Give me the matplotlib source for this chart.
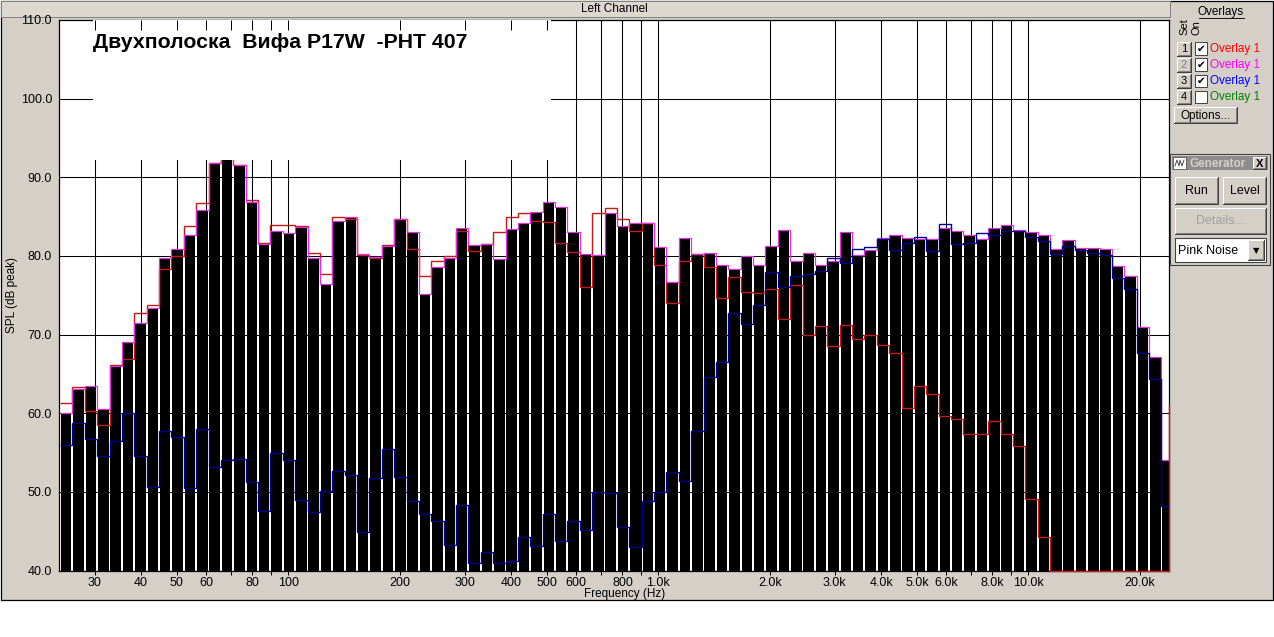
import numpy as np
import matplotlib
matplotlib.use('Agg')
import matplotlib.pyplot as plt
from matplotlib.patches import Rectangle
from matplotlib.lines import Line2D
from matplotlib.ticker import NullLocator

plt.rcParams['font.family'] = ['Liberation Sans', 'DejaVu Sans']

W, H = 1274, 637

# 1/9-octave RTA levels, dB peak, band 1 starts at ~24 Hz
current_db = [60.0, 63.1, 63.4, 60.5, 66.0, 69.0, 71.5, 73.4, 79.7, 80.9,
              82.6, 85.8, 91.8, 92.6, 91.6, 86.8, 81.5, 83.2, 82.9, 83.7,
              79.7, 76.4, 84.4, 85.0, 80.3, 79.9, 81.3, 84.7, 83.0, 75.1,
              78.6, 79.7, 83.6, 81.4, 81.5, 79.6, 83.4, 84.2, 85.6, 86.8,
              86.2, 83.1, 80.3, 80.1, 85.5, 83.8, 84.2, 84.2, 81.1, 76.7,
              82.3, 80.2, 80.4, 78.9, 78.3, 80.0, 78.8, 81.3, 83.3, 79.4,
              80.4, 78.9, 79.3, 83.0, 80.1, 80.7, 82.3, 82.6, 82.3, 82.1,
              82.2, 83.5, 83.2, 82.6, 82.2, 83.6, 83.9, 83.3, 83.1, 82.7,
              80.9, 82.0, 81.0, 81.0, 80.9, 78.7, 77.4, 71.0, 67.2, 54.1]

# overlay set 1 (red), last value is the band just past the right edge
set1_db = [61.3, 63.3, 60.3, 58.5, 66.1, 66.9, 72.7, 73.7, 78.4, 80.0,
           83.8, 86.7, 91.8, 92.6, 91.5, 87.1, 81.6, 83.9, 83.9, 83.8,
           80.4, 77.7, 84.9, 84.7, 80.1, 79.8, 81.4, 84.7, 80.9, 77.4,
           79.3, 80.0, 83.2, 80.6, 81.5, 83.0, 84.9, 85.5, 84.5, 84.3,
           81.7, 80.5, 76.1, 85.4, 86.1, 84.7, 83.2, 84.2, 78.9, 74.0,
           79.4, 80.3, 78.6, 74.6, 77.3, 75.4, 75.3, 75.8, 72.0, 76.3,
           70.0, 71.1, 68.6, 71.2, 69.5, 70.0, 68.7, 67.7, 60.6, 63.5,
           62.4, 59.6, 59.3, 57.3, 57.3, 59.0, 57.3, 55.8, 49.1, 44.2,
           40.0, 40.0, 40.0, 40.0, 40.0, 40.0, 40.0, 40.0, 40.0, 40.0,
           61.1]

# overlay set 2 (magenta) is the same capture as the live trace
set2_db = list(current_db)

# overlay set 3 (blue)
set3_db = [56.0, 58.7, 56.7, 54.5, 56.5, 60.0, 54.6, 50.6, 57.8, 57.0,
           50.5, 58.0, 53.1, 54.1, 54.2, 51.2, 47.6, 55.0, 54.1, 49.0,
           47.4, 50.1, 52.7, 52.2, 44.9, 51.7, 55.5, 51.9, 48.9, 47.2,
           46.3, 43.2, 48.3, 40.9, 42.4, 40.9, 41.2, 44.2, 43.1, 47.2,
           43.8, 46.3, 45.2, 50.0, 49.8, 45.5, 43.0, 48.8, 50.0, 52.5,
           51.4, 57.7, 64.6, 66.5, 72.8, 71.4, 73.8, 77.9, 76.1, 77.4,
           77.7, 78.1, 79.7, 79.1, 80.9, 81.1, 82.2, 80.8, 81.7, 82.4,
           80.6, 84.1, 81.5, 81.7, 82.9, 82.6, 83.2, 83.2, 82.4, 81.9,
           80.2, 81.3, 80.8, 80.4, 80.1, 77.2, 75.8, 67.6, 64.4, 48.2]

grid_freqs = [30, 40, 50, 60, 70, 80, 90, 100, 200, 300, 400, 500, 600, 700,
              800, 900, 1000, 2000, 3000, 4000, 5000, 6000, 7000, 8000, 9000,
              10000, 20000]
grid_labels = ['30', '40', '50', '60', '', '80', '', '100', '200', '300', '400',
               '500', '600', '', '800', '', '1.0k', '2.0k', '3.0k', '4.0k',
               '5.0k', '6.0k', '', '8.0k', '', '10.0k', '20.0k']
y_ticks = [40, 50, 60, 70, 80, 90, 100, 110]
overlay_names = ['Overlay 1', 'Overlay 1', 'Overlay 1', 'Overlay 1']
overlay_colors = ['#FF0000', '#FF00FF', '#0000FF', '#008000']
overlay_on = [True, True, True, False]

F_LO, F_HI = 24.0, 24000.0
F_START = 24.15
edges = F_START * 2.0 ** (np.arange(len(set1_db) + 1) / 9.0)
edges_plot = np.minimum(edges, F_HI * 0.9995)

GRAY = '#D4D0C8'
DARK = '#808080'


def fx(x):
    return x / W


def fy(y):
    return 1 - y / H


def px_rect(x0, y0, x1, y1, **kw):
    kw.setdefault('zorder', 2)
    r = Rectangle((fx(x0), fy(y1)), (x1 - x0) / W, (y1 - y0) / H,
                  transform=fig.transFigure, **kw)
    fig.add_artist(r)
    return r


def px_line(xs, ys, color, lw=1.0):
    fig.add_artist(Line2D([fx(x) for x in xs], [fy(y) for y in ys],
                          transform=fig.transFigure, color=color, lw=lw * 0.72,
                          zorder=3))


def px_text(x, y, s, **kw):
    kw.setdefault('fontsize', 8)
    kw.setdefault('va', 'center')
    kw.setdefault('zorder', 4)
    return fig.text(fx(x), fy(y), s, **kw)


def button(x0, y0, x1, y1, label='', color='black', size=8.5, bold=False):
    px_rect(x0, y0, x1, y1, facecolor=GRAY, edgecolor='none')
    px_line([x0, x1, x1, x0], [y1, y1, y0, y0], '#404040')
    px_line([x0, x0, x1 - 1], [y1 - 1, y0, y0], 'white')
    px_line([x0 + 1, x1 - 1, x1 - 1], [y1 - 1, y1 - 1, y0 + 1], DARK)
    if label:
        px_text((x0 + x1) / 2, (y0 + y1) / 2 + 0.5, label, ha='center',
                color=color, fontsize=size, fontweight='bold' if bold else 'normal')


fig = plt.figure(figsize=(W / 100, H / 100), dpi=100, facecolor='white')

# window background (kept under the axes)
px_rect(0.5, 0.5, 1273, 600, facecolor=GRAY, edgecolor='black', lw=0.9, zorder=-5)
px_rect(1, 1, 1170, 17, facecolor='#DCD8D0', edgecolor=DARK, lw=0.7, zorder=-4)
px_text(614, 9.5, 'Left Channel', ha='center', fontsize=8.5)

ax = fig.add_axes([fx(59), fy(570.5), 1110 / W, 550.5 / H])
ax.set_facecolor('white')
ax.set_xscale('log')
ax.set_xlim(F_LO, F_HI)
ax.set_ylim(40, 110)

n = len(current_db)
left = edges[:n] * 2 ** (0.075 / 9)
right = edges[1:n + 1] * 2 ** (-0.075 / 9)
ax.bar(left, current_db, width=right - left, align='edge', color='black',
       linewidth=0, antialiased=False, zorder=2)

ax.stairs(set1_db, edges_plot, baseline=None, color='#C81818', lw=1.0,
          zorder=3, clip_on=False)
ax.stairs(set2_db, edges_plot[:n + 1], baseline=None, color='#E030E0', lw=0.9,
          zorder=3.2)
ax.stairs(set3_db, edges_plot[:n + 1], baseline=None, color='#000090', lw=1.0,
          zorder=3.4)

# white caption panel over the plot
ax.add_patch(Rectangle(((93 - 59) / 1110, (570.5 - 160) / 550.5),
                       (551 - 93) / 1110, 1.0 - (570.5 - 160) / 550.5,
                       transform=ax.transAxes, facecolor='white',
                       edgecolor='none', zorder=5))
ax.text((93 - 59) / 1110, (570.5 - 43) / 550.5, 'Двухполоска  Вифа P17W  -PHT 407',
        transform=ax.transAxes, ha='left', va='center', fontsize=15.3,
        fontweight='bold', zorder=6)

ax.set_xticks(grid_freqs)
ax.set_xticklabels(grid_labels)
ax.xaxis.set_minor_locator(NullLocator())
ax.set_yticks(y_ticks)
ax.set_yticklabels([f'{v:.1f}' for v in y_ticks])
ax.grid(True, color='black', lw=0.75)
ax.set_axisbelow(True)
ax.tick_params(axis='x', direction='out', length=3, width=0.72, pad=2,
               labelsize=9)
ax.tick_params(axis='y', length=0, pad=5, labelsize=9)
for sp in ax.spines.values():
    sp.set_linewidth(0.9)

# short inward ticks along the top edge
top = ax.twiny()
top.set_xscale('log')
top.set_xlim(ax.get_xlim())
top.set_xticks(grid_freqs)
top.xaxis.set_minor_locator(NullLocator())
top.tick_params(axis='x', direction='in', length=7, width=0.72, labeltop=False,
                top=True, bottom=False, labelbottom=False)
for sp in top.spines.values():
    sp.set_visible(False)

px_text(625, 594.5, 'Frequency (Hz)', ha='center', fontsize=8.5)
px_text(12, 295, 'SPL (dB peak)', ha='center', rotation=90, fontsize=8.5)

# overlays panel
px_text(1221, 11.5, 'Overlays', ha='center', fontsize=8.5)
px_line([1199, 1244], [18, 18], 'black', 0.9)
px_text(1184, 27, 'Set', ha='center', rotation=90, fontsize=8)
px_text(1197, 28, 'On', ha='center', rotation=90, fontsize=8)
for i, (name, col, on) in enumerate(zip(overlay_names, overlay_colors, overlay_on)):
    yc = 48.5 + 16 * i
    button(1177, yc - 7, 1191, yc + 7, str(i + 1), color=DARK if i == 1 else 'black',
           size=8)
    px_rect(1195, yc - 6, 1207, yc + 6, facecolor='white', edgecolor='#404040', lw=0.7)
    if on:
        px_text(1201, yc + 0.5, '✔', ha='center', fontsize=7.5,
                family=['DejaVu Sans'])
    px_text(1210, yc + 0.5, name, ha='left', color=col, fontsize=8.5)
button(1174, 107, 1237, 123, 'Options...')

# generator panel
px_rect(1170, 154, 1270, 265, facecolor=GRAY, edgecolor='#404040', lw=0.8)
px_rect(1172, 156, 1268, 170, facecolor='#8C8C8C', edgecolor='none')
px_rect(1173, 157, 1186, 169, facecolor='white', edgecolor='#404040', lw=0.5)
px_line([1175, 1177, 1179, 1180, 1182, 1184], [166, 160, 166, 160, 166, 160],
        '#404040', 0.9)
px_text(1189, 163.5, 'Generator', ha='left', color=GRAY, fontsize=8.5,
        fontweight='bold')
button(1253, 157, 1266, 169, 'X', size=8, bold=True)
button(1175, 177, 1218, 204, 'Run', size=9)
button(1223, 177, 1266, 204, 'Level', size=9)
button(1175, 208, 1266, 234, 'Details...', color='#A0A0A0', size=9)
px_rect(1175, 238, 1266, 262, facecolor='white', edgecolor='#404040', lw=0.8)
px_text(1178, 250.5, 'Pink Noise', ha='left', fontsize=9)
button(1248, 240, 1264, 260)
px_text(1256, 251, '▼', ha='center', fontsize=6, family=['DejaVu Sans'])

fig.savefig('out.png', dpi=100, facecolor='white')
